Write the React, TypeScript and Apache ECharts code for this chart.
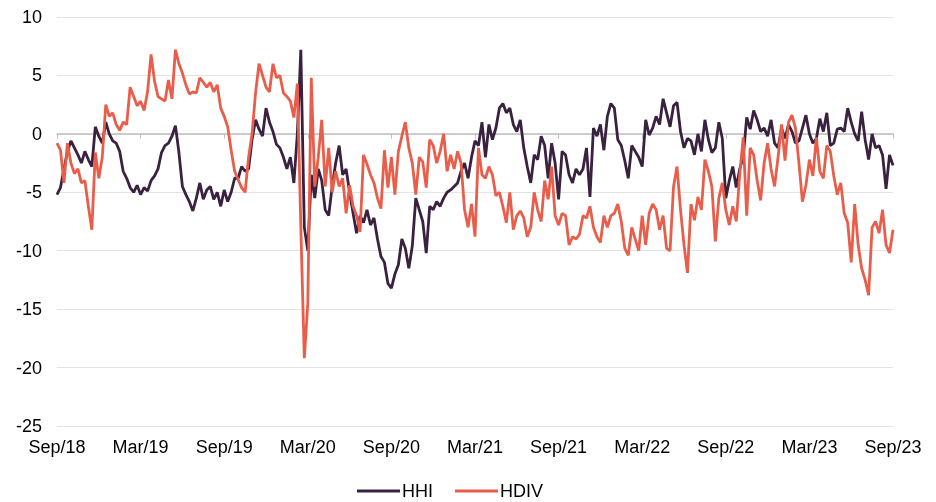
import React, { useEffect, useRef } from "react";
import * as echarts from "echarts";

// x tick labels every 6 months, starting Sep/18
const tickLabels = ["Sep/18", "Mar/19", "Sep/19", "Mar/20", "Sep/20", "Mar/21", "Sep/21", "Mar/22", "Sep/22", "Mar/23", "Sep/23"];

// step between readings, in months (roughly weekly)
const stepMonths = 0.25;

// HHI readings (4 per month from Sep 2018)
const hhi = [
  -5.2, -4.6, -3.0, -1.5,
  -0.6, -1.2, -1.8, -2.5,
  -1.5, -2.2, -2.8, 0.6,
  -0.2, -0.8, 1.0, 0.0,
  -0.6, -0.8, -1.5, -3.2,
  -3.8, -4.6, -5.0, -4.4,
  -5.2, -4.6, -4.9, -4.0,
  -3.6, -3.0, -1.6, -1.0,
  -0.8, -0.2, 0.7, -1.6,
  -4.5, -5.2, -5.8, -6.6,
  -5.5, -4.2, -5.6, -4.8,
  -4.5, -5.6, -5.0, -6.2,
  -4.8, -5.8, -5.0, -3.8,
  -3.8, -2.8, -3.2, -3.0,
  -0.5, 1.2, 0.4, -0.2,
  2.2, 1.0, 0.2, -0.9,
  -1.2, -2.0, -3.0, -2.0,
  -4.2, 0.0, 7.2, -8.0,
  -10.0, -3.5, -5.5, -3.0,
  -4.0, -6.5, -7.0, -4.5,
  -2.5, -1.0, -3.5, -3.0,
  -5.0, -6.8, -8.5, -7.0,
  -7.6, -6.5, -7.8, -7.2,
  -9.0, -10.5, -11.0, -12.8,
  -13.2, -12.0, -11.2, -9.0,
  -9.8, -11.5, -9.6, -5.5,
  -6.5, -7.5, -10.2, -6.2,
  -6.5, -5.8, -6.2, -5.5,
  -5.0, -4.8, -4.5, -4.2,
  -3.2, -2.5, -3.8, -2.0,
  -0.6, -1.0, 1.0, -2.0,
  0.8, -0.5, 0.5, 2.2,
  2.6, 1.8, 2.2, 0.8,
  0.2, 1.2, -1.2, -2.8,
  -4.2, -1.8, -2.2, -0.2,
  -1.0, -3.8, -0.8, -2.5,
  -5.6, -1.5, -1.8, -3.5,
  -4.2, -3.0, -3.5, -3.0,
  -1.2, -5.4, 0.5, -0.2,
  0.8, -1.4, 1.5, 2.6,
  2.2, -0.5, -1.0, -2.3,
  -3.8, -1.0, -1.5, -2.0,
  -2.8, 1.2, -0.1, 0.5,
  1.5, 0.8, 3.0, 1.8,
  0.6, 2.4, 2.7, 0.2,
  -1.2, -0.4, -0.6, -1.8,
  0.0, -1.5, 1.2, -0.5,
  -1.6, -1.2, 1.0, -0.4,
  -5.5, -4.0, -2.8, -4.6,
  -3.0, -2.0, 1.4, 0.4,
  2.0, 1.2, 0.2, 0.5,
  -0.2, 1.2, -0.8, -1.2,
  0.5, -0.4, 0.8, 0.2,
  -0.8, -0.6, 0.5, 1.6,
  0.0, -0.8, -0.4, 1.3,
  0.2, 1.8, -1.0, -0.8,
  0.4, 0.5, 0.2, 2.2,
  1.0, 0.0, -0.6, 1.9,
  -0.5, -2.2, 0.0, -1.2,
  -1.0, -1.8, -4.7, -1.8,
  -2.7,
];

// HDIV readings (4 per month from Sep 2018)
const hdiv = [
  -0.8, -1.4, -4.2, -0.8,
  -2.5, -3.4, -3.0, -4.2,
  -4.0, -6.2, -8.2, -1.6,
  -3.8, -2.0, 2.5, 1.5,
  1.8, 0.8, 0.3, 1.0,
  0.8, 4.0, 3.2, 2.4,
  2.8, 2.0, 3.6, 6.8,
  4.5, 3.2, 3.0, 2.8,
  4.6, 3.0, 7.2, 6.0,
  5.2, 4.2, 3.4, 3.6,
  3.5, 4.8, 4.4, 4.0,
  4.4, 3.6, 4.2, 2.2,
  1.5, 0.6, -1.4, -3.2,
  -3.9, -4.6, -5.0, -2.0,
  0.0, 3.5, 6.0, 5.0,
  4.0, 3.6, 6.0, 4.8,
  5.0, 3.5, 3.2, 2.8,
  1.4, 4.3, -8.0, -19.2,
  -14.5, 4.8, -4.5, -2.0,
  1.2, -4.5, -1.2, -5.0,
  -3.2, -4.5, -3.8, -6.8,
  -4.4, -6.2, -7.0, -8.4,
  -1.8, -2.6, -3.5, -4.2,
  -5.5, -6.4, -1.4, -4.6,
  -2.0, -5.2, -1.5, -0.2,
  1.0, -1.2, -2.5, -5.2,
  -2.0, -2.4, -4.6, -0.5,
  -1.0, -2.5, -1.5, 0.0,
  -3.2, -1.8, -3.0, -1.5,
  -2.5, -6.5, -8.0, -6.0,
  -8.8, -1.2, -3.5, -3.8,
  -2.8, -3.5, -5.3, -5.0,
  -6.2, -7.6, -5.0, -8.2,
  -7.0, -6.6, -7.2, -8.8,
  -8.0, -5.0, -6.5, -7.5,
  -4.0, -5.6, -2.8, -7.0,
  -7.8, -6.8, -7.0, -9.5,
  -8.8, -9.0, -8.6, -7.0,
  -7.2, -6.2, -8.0, -8.8,
  -9.3, -7.0, -8.0, -7.0,
  -6.8, -6.0, -7.5, -9.8,
  -10.4, -8.0, -9.0, -10.0,
  -7.0, -9.5, -6.8, -6.0,
  -6.5, -8.2, -7.0, -9.8,
  -10.0, -4.5, -2.8, -6.5,
  -9.5, -11.9, -6.0, -7.4,
  -5.4, -6.5, -2.2, -3.2,
  -4.5, -9.2, -5.5, -4.2,
  -6.5, -7.8, -6.2, -7.5,
  -3.5, -0.3, -7.0, -1.2,
  -1.8, -4.0, -5.7, -2.5,
  -0.8, -3.0, -4.5, -2.0,
  0.8, -2.3, 1.0, 1.6,
  0.5, -2.5, -5.8, -4.4,
  -2.2, -3.6, -0.3, -3.2,
  -3.8, -1.0, -1.5, -3.6,
  -5.2, -4.2, -6.8, -7.6,
  -11.0, -6.0, -9.5, -11.5,
  -12.5, -13.8, -8.0, -7.5,
  -8.5, -6.5, -9.5, -10.2,
  -8.2,
];

const FONT = "'Liberation Sans', Arial, sans-serif";
const HHI_COLOR = "#3a2140";
const HDIV_COLOR = "#e95e4b";

export default function App() {
  const ref = useRef<HTMLDivElement>(null);

  useEffect(() => {
    if (!ref.current) return;
    const chart = echarts.init(ref.current, undefined, { renderer: "svg" });
    const toPairs = (arr: number[]) => arr.map((v, i) => [i * stepMonths, v]);
    const maxX = (tickLabels.length - 1) * 6;

    chart.setOption({
      animation: false,
      textStyle: { fontFamily: FONT },
      grid: { left: 57, right: 43, top: 17, bottom: 76, containLabel: false },
      legend: {
        data: ["HHI", "HDIV"],
        left: 355,
        top: 480,
        padding: 2,
        icon: "rect",
        itemWidth: 43,
        itemHeight: 3,
        itemGap: 22,
        textStyle: { fontSize: 18, color: "#000", fontFamily: FONT, padding: [0, 0, 0, -3] },
      },
      xAxis: [
        {
          type: "value",
          min: 0,
          max: maxX,
          interval: 6,
          position: "bottom",
          axisLine: { show: false, onZero: false },
          axisTick: { show: false },
          splitLine: { show: false },
          axisLabel: {
            margin: 12,
            fontSize: 18,
            color: "#000",
            fontFamily: FONT,
            formatter: (v: number) => tickLabels[Math.round(v / 6)] ?? "",
          },
        },
        {
          type: "value",
          min: 0,
          max: maxX,
          interval: 6,
          position: "bottom",
          axisLine: { show: true, onZero: true, lineStyle: { color: "#bfbfbf", width: 1.5 } },
          axisTick: { show: true, length: 5, lineStyle: { color: "#bfbfbf" } },
          splitLine: { show: false },
          axisLabel: { show: false },
        },
      ],
      yAxis: {
        type: "value",
        min: -25,
        max: 10,
        interval: 5,
        axisLine: { show: false },
        axisTick: { show: false },
        splitLine: { show: true, lineStyle: { color: "#e3e3e3", width: 1 } },
        axisLabel: { margin: 15, fontSize: 18, color: "#000", fontFamily: FONT },
      },
      series: [
        {
          name: "HHI",
          type: "line",
          xAxisIndex: 0,
          data: toPairs(hhi),
          showSymbol: false,
          symbol: "none",
          lineStyle: { color: HHI_COLOR, width: 2.8 },
          itemStyle: { color: HHI_COLOR },
          z: 3,
        },
        {
          name: "HDIV",
          type: "line",
          xAxisIndex: 0,
          data: toPairs(hdiv),
          showSymbol: false,
          symbol: "none",
          lineStyle: { color: HDIV_COLOR, width: 2.8 },
          itemStyle: { color: HDIV_COLOR },
          z: 4,
        },
      ],
    });

    return () => chart.dispose();
  }, []);

  return <div ref={ref} style={{ position: "fixed", left: 0, top: 0, width: 936, height: 502 }} />;
}
